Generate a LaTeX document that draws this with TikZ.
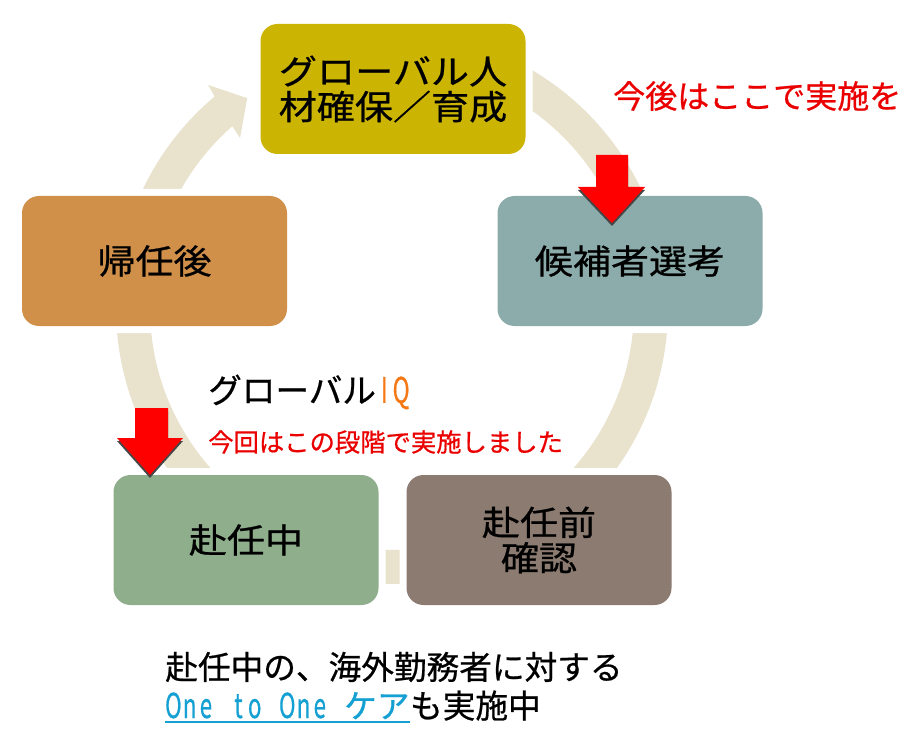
\documentclass[tikz,border=0pt]{standalone}
\usepackage{graphicx}
\usepackage{fontspec}
\setmainfont[FakeBold=0.7]{Noto Sans CJK JP}
\newfontfamily\jpw[FakeStretch=1.12,FakeBold=0.7]{Noto Sans CJK JP}
\usetikzlibrary{calc}
\definecolor{cTop}{RGB}{203,181,2}
\definecolor{cRight}{RGB}{139,172,170}
\definecolor{cLeft}{RGB}{208,144,74}
\definecolor{cBL}{RGB}{142,174,140}
\definecolor{cBR}{RGB}{139,123,113}
\definecolor{cBand}{RGB}{233,227,206}
\definecolor{cRed}{RGB}{235,0,0}
\definecolor{cArrow}{RGB}{255,0,0}
\definecolor{cShadow}{RGB}{70,70,70}
\definecolor{cOrange}{RGB}{245,120,20}
\definecolor{cBlue}{RGB}{20,160,210}
\newcommand\hwbox[2]{\makebox[#1]{\scalebox{0.68}[1.05]{#2}}}
\tikzset{
  stage/.style={rectangle, rounded corners=12.75pt, minimum width=198.75pt,
    minimum height=97.5pt, inner sep=0pt, align=center, text=black,
    font=\jpw\fontsize{25.5pt}{26.5pt}\selectfont,
    preaction={draw=white, line width=10.5pt}},
  note/.style={inner sep=0pt, anchor=west},
  basenote/.style={inner sep=0pt, anchor=base west},
  redarrow/.style={fill=cArrow},
  arrowshadow/.style={fill=cShadow},
}
\begin{document}
\begin{tikzpicture}[x=0.75pt,y=-0.75pt]
\useasboundingbox (0,0) rectangle (907,731);
\fill[white] (0,0) rectangle (907,731);
\coordinate (c) at (392,308);
% continuous circular arrow
\fill[cBand] ($(c)+(-90:276)$) arc[start angle=-90, end angle=230, radius=276]
  -- ($(c)+(230.5:289)$) -- ($(c)+(235.4:255)$) -- ($(c)+(228.2:228)$)
  -- ($(c)+(228.7:242)$) arc[start angle=228.7, end angle=-90, radius=242] -- cycle;
% stages
\node[stage, fill=cTop] (top) at (393,89) {グローバル人\\材確保／育成};
\node[stage, fill=cRight] (sel) at (630,261) {候補者選考};
\node[stage, fill=cLeft] (ret) at (154.5,261) {帰任後};
\node[stage, fill=cBL] (dur) at (246,540) {赴任中};
\node[stage, fill=cBR] (pre) at (539,540) {赴任前\\確認};
% red block arrows
\fill[arrowshadow, yshift=-2.25pt] (596,155) -- (628,155) -- (628,187) -- (645,187) -- (612,223) -- (578,187) -- (596,187) -- cycle;
\fill[redarrow] (596,155) -- (628,155) -- (628,187) -- (645,187) -- (612,223) -- (578,187) -- (596,187) -- cycle;
\fill[arrowshadow, yshift=-2.25pt] (135,408) -- (168,408) -- (168,438) -- (183,438) -- (150,475) -- (117,438) -- (135,438) -- cycle;
\fill[redarrow] (135,408) -- (168,408) -- (168,438) -- (183,438) -- (150,475) -- (117,438) -- (135,438) -- cycle;
% texts
\node[note, text=cRed, font=\fontsize{24pt}{24pt}\selectfont] (later) at (613,96) {今後はここで実施を};
\node[note, font=\fontsize{25.2pt}{26pt}\selectfont] (giq) at (208,392) {グローバル\textcolor{cOrange}{\hwbox{12.6pt}{I}\hwbox{12.6pt}{Q}}};
\node[note, text=cRed, font=\fontsize{19pt}{20pt}\selectfont] (now) at (208,442) {今回はこの段階で実施しました};
\node[note, font=\fontsize{24.5pt}{25pt}\selectfont] (care1) at (165,667) {赴任中の、海外勤務者に対する};
\node[basenote, text=cBlue, font=\fontsize{24.5pt}{25pt}\selectfont] (one) at (165,718) {\hwbox{12.2pt}{O}\hwbox{12.2pt}{n}\hwbox{12.2pt}{e}\hwbox{12.2pt}{}\hwbox{12.2pt}{t}\hwbox{12.2pt}{o}\hwbox{12.2pt}{}\hwbox{12.2pt}{O}\hwbox{12.2pt}{n}\hwbox{12.2pt}{e}\hwbox{12.2pt}{}ケア};
\node[basenote, font=\fontsize{24.5pt}{25pt}\selectfont] (also) at (one.base east) {も実施中};
\draw[cBlue, line width=1.9pt] ($(one.base west)+(0,4)$) -- ($(one.base east)+(0,4)$);
\end{tikzpicture}
\end{document}
